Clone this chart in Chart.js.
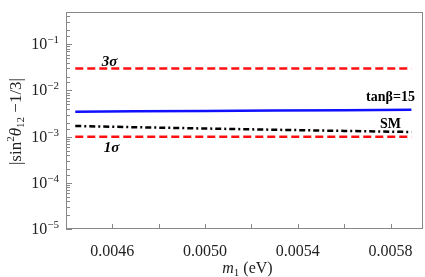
<!DOCTYPE html>
<html>
<head>
<meta charset="utf-8">
<script src="https://cdn.jsdelivr.net/npm/chart.js@4.4.1/dist/chart.umd.min.js"></script>
<style>
  html, body { margin: 0; padding: 0; background: #fff; }
  #wrap { width: 425px; height: 277px; }
</style>
</head>
<body>
<div id="wrap"><canvas id="c"></canvas></div>
<script>
// m1 (eV) sample points
const m1 = [0.00444, 0.0047, 0.0050, 0.0053, 0.0056, 0.00589];
// |sin^2 theta12 - 1/3|
const tanb15 = [0.00348, 0.00353, 0.00360, 0.00367, 0.00374, 0.00381];
const sm = [0.00170, 0.00160, 0.00150, 0.00141, 0.00133, 0.00126];
const sigma3 = [0.03, 0.03, 0.03, 0.03, 0.03, 0.03];
const sigma1 = [0.001, 0.001, 0.001, 0.001, 0.001, 0.001];
const xLabelTicks = [0.0046, 0.0050, 0.0054, 0.0058];
const yLabelTicks = [1e-5, 1e-4, 1e-3, 1e-2, 1e-1];

const serif = '"Liberation Serif", "DejaVu Serif", serif';

function pts(ys) {
  return m1.map((x, i) => ({ x: x, y: ys[i] }));
}

function isPow10(v) {
  const e = Math.log10(v);
  return Math.abs(e - Math.round(e)) < 1e-6;
}

// 逐段畫不同字型的文字，置中於 (0, 0)
function drawRich(ctx, parts) {
  let w = 0;
  parts.forEach(p => { ctx.font = p.f; w += ctx.measureText(p.t).width; });
  let x = -w / 2;
  parts.forEach(p => {
    ctx.font = p.f;
    ctx.fillText(p.t, x, p.dy);
    x += ctx.measureText(p.t).width;
  });
}

// 框線、朝內的刻度和軸標題
const framePlugin = {
  id: 'frame',
  afterDraw(chart) {
    const { ctx, chartArea: a, scales } = chart;
    ctx.save();
    ctx.strokeStyle = '#888';
    ctx.lineWidth = 1;
    ctx.strokeRect(a.left + 0.5, a.top + 0.5, a.right - a.left - 1, a.bottom - a.top - 1);
    ctx.beginPath();
    scales.y.ticks.forEach(t => {
      const y = Math.round(scales.y.getPixelForValue(t.value)) + 0.5;
      const len = isPow10(t.value) ? 6 : 4;
      ctx.moveTo(a.left, y); ctx.lineTo(a.left + len, y);
    });
    scales.x.ticks.forEach(t => {
      const x = Math.round(scales.x.getPixelForValue(t.value)) + 0.5;
      ctx.moveTo(x, a.bottom); ctx.lineTo(x, a.bottom - 5);
    });
    ctx.stroke();

    // y 軸刻度文字 10^n
    ctx.fillStyle = '#222';
    ctx.textBaseline = 'alphabetic';
    yLabelTicks.forEach(v => {
      const y = scales.y.getPixelForValue(v);
      const exp = '−' + String(-Math.round(Math.log10(v)));
      ctx.font = '11px ' + serif;
      const ew = ctx.measureText(exp).width;
      ctx.textAlign = 'right';
      ctx.fillText(exp, a.left - 7, y - 1);
      ctx.font = '16px ' + serif;
      ctx.fillText('10', a.left - 7 - ew, y + 5);
    });
    ctx.textAlign = 'left';

    // x 軸標題 m1 (eV)
    ctx.save();
    ctx.translate((a.left + a.right) / 2 + 3, 273);
    drawRich(ctx, [
      { t: 'm', f: 'italic 16px ' + serif, dy: 0 },
      { t: '1', f: '11px ' + serif, dy: 3 },
      { t: ' (eV)', f: '16px ' + serif, dy: 0 }
    ]);
    ctx.restore();

    // y 軸標題 |sin^2 theta12 - 1/3|
    ctx.save();
    ctx.translate(21, (a.top + a.bottom) / 2 + 1);
    ctx.rotate(-Math.PI / 2);
    drawRich(ctx, [
      { t: '|sin', f: '17px ' + serif, dy: 0 },
      { t: '2', f: '11px ' + serif, dy: -7 },
      { t: 'θ', f: 'italic 17px ' + serif, dy: 0 },
      { t: '12', f: '11px ' + serif, dy: 3 },
      { t: ' −1/3|', f: '17px ' + serif, dy: 0 }
    ]);
    ctx.restore();
    ctx.restore();
  }
};

// 曲線旁的文字標籤
const notes = [
  { text: '3σ', x: 0.004588, y: 0.042, font: 'italic bold 15px ' + serif, align: 'center' },
  { text: '1σ', x: 0.004596, y: 0.00056, font: 'italic bold 15px ' + serif, align: 'center' },
  { text: 'tanβ=15', x: 0.005905, y: 0.0070, font: 'bold 14px ' + serif, align: 'right' },
  { text: 'SM', x: 0.0058, y: 0.00186, font: 'bold 14px ' + serif, align: 'center' }
];

const notePlugin = {
  id: 'notes',
  afterDatasetsDraw(chart) {
    const { ctx, scales } = chart;
    ctx.save();
    ctx.fillStyle = '#000';
    ctx.textBaseline = 'middle';
    notes.forEach(n => {
      ctx.font = n.font;
      ctx.textAlign = n.align;
      ctx.fillText(n.text, scales.x.getPixelForValue(n.x), scales.y.getPixelForValue(n.y));
    });
    ctx.restore();
  }
};

new Chart(document.getElementById('c'), {
  type: 'line',
  data: {
    datasets: [
      { label: '3σ', data: pts(sigma3), borderColor: '#ff1010', borderWidth: 2.5, borderDash: [8, 4] },
      { label: '1σ', data: pts(sigma1), borderColor: '#ff1010', borderWidth: 2.5, borderDash: [8, 4] },
      { label: 'tanβ=15', data: pts(tanb15), borderColor: '#1010ff', borderWidth: 2.5 },
      { label: 'SM', data: pts(sm), borderColor: '#000', borderWidth: 2.5, borderDash: [6, 3, 2, 3] }
    ]
  },
  options: {
    responsive: true,
    maintainAspectRatio: false,
    animation: false,
    elements: { point: { radius: 0 }, line: { tension: 0, fill: false } },
    layout: { padding: { top: 8, right: 2, left: 0, bottom: 0 } },
    plugins: { legend: { display: false }, tooltip: { enabled: false } },
    scales: {
      x: {
        type: 'linear',
        min: 0.0044,
        max: 0.00594,
        grid: { display: false },
        border: { display: false },
        ticks: {
          stepSize: 0.0002,
          includeBounds: false,
          autoSkip: false,
          maxRotation: 0,
          padding: 5,
          color: '#222',
          font: { family: serif, size: 16 },
          callback: v => xLabelTicks.some(t => Math.abs(t - v) < 1e-8) ? v.toFixed(4) : ''
        },
        afterFit: s => { s.height = 48; }
      },
      y: {
        type: 'logarithmic',
        min: 1e-5,
        max: 0.5,
        grid: { display: false },
        border: { display: false },
        ticks: {
          autoSkip: false,
          color: '#222',
          font: { family: serif, size: 15 },
          callback: () => ''
        },
        afterFit: s => { s.width = 66; }
      }
    }
  },
  plugins: [framePlugin, notePlugin]
});
</script>
</body>
</html>
